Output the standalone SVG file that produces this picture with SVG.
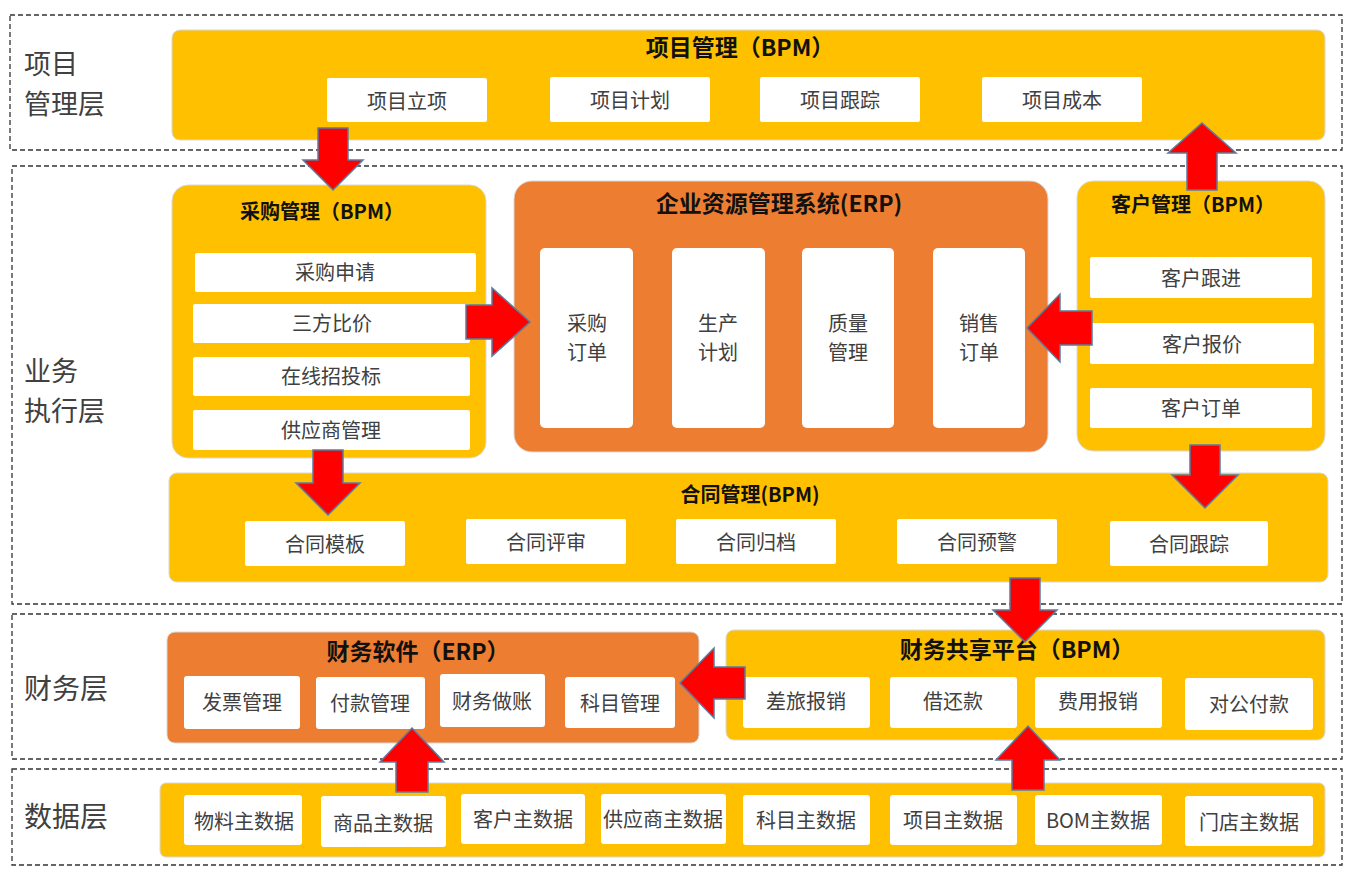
<svg xmlns="http://www.w3.org/2000/svg" width="1360" height="881" viewBox="0 0 1360 881">
<style>
.layer{fill:none;stroke:#333;stroke-width:1.3;stroke-dasharray:5 3}
.y{fill:#FFC000;stroke:#D9D9D9;stroke-width:1}
.o{fill:#ED7D31;stroke:#D9D9D9;stroke-width:1}
.w{fill:#fff}
.t{font-family:"Noto Sans CJK SC","Noto Sans",sans-serif;font-size:20px;fill:#404040;text-anchor:middle;dominant-baseline:central}
.h{font-family:"Noto Sans CJK SC","Noto Sans",sans-serif;font-size:20px;font-weight:bold;fill:#111;text-anchor:middle;dominant-baseline:central}
.hl{font-size:23px}
.lab{font-family:"Noto Sans CJK SC","Noto Sans",sans-serif;font-size:28px;fill:#404040;dominant-baseline:central}
.lab2{font-size:27px}
.arr{fill:#FF0000;stroke:#5B7BA0;stroke-width:1.5}
</style>
<g id="layers">
<rect class="layer" x="10" y="15" width="1332" height="135"/>
<rect class="layer" x="12" y="166" width="1330" height="438"/>
<rect class="layer" x="12" y="614" width="1330" height="145"/>
<rect class="layer" x="12" y="769" width="1330" height="96"/>
<text class="lab lab2" x="24" y="62">项目</text>
<text class="lab lab2" x="24" y="102">管理层</text>
<text class="lab lab2" x="24" y="369">业务</text>
<text class="lab lab2" x="24" y="409">执行层</text>
<text class="lab" x="24" y="687">财务层</text>
<text class="lab" x="24" y="815">数据层</text>
</g>
<g id="project">
<rect class="y" x="172" y="30" width="1153" height="110" rx="8"/>
<text class="h hl" x="740" y="46">项目管理（BPM）</text>
<rect class="w" x="327" y="78" width="160" height="44" rx="2"/><text class="t" x="407" y="100">项目立项</text>
<rect class="w" x="550" y="77" width="160" height="45" rx="2"/><text class="t" x="630" y="99">项目计划</text>
<rect class="w" x="760" y="77" width="160" height="45" rx="2"/><text class="t" x="840" y="99">项目跟踪</text>
<rect class="w" x="982" y="77" width="160" height="45" rx="2"/><text class="t" x="1062" y="99">项目成本</text>
</g>
<g id="purchase">
<rect class="y" x="172" y="185" width="314" height="273" rx="16"/>
<text class="h" x="322" y="210">采购管理（BPM）</text>
<rect class="w" x="195" y="253" width="281" height="39" rx="2"/><text class="t" x="335" y="271">采购申请</text>
<rect class="w" x="193" y="304" width="277" height="39" rx="2"/><text class="t" x="332" y="322">三方比价</text>
<rect class="w" x="193" y="357" width="277" height="39" rx="2"/><text class="t" x="331" y="375">在线招投标</text>
<rect class="w" x="193" y="410" width="277" height="40" rx="2"/><text class="t" x="331" y="429">供应商管理</text>
</g>
<g id="erp">
<rect class="o" x="514" y="181" width="534" height="271" rx="18"/>
<text class="h hl" x="779" y="202">企业资源管理系统(ERP)</text>
<rect class="w" x="540" y="248" width="93" height="180" rx="5"/><text class="t" x="587" y="322">采购</text><text class="t" x="587" y="351">订单</text>
<rect class="w" x="672" y="248" width="93" height="180" rx="5"/><text class="t" x="718" y="322">生产</text><text class="t" x="718" y="351">计划</text>
<rect class="w" x="802" y="248" width="92" height="180" rx="5"/><text class="t" x="848" y="322">质量</text><text class="t" x="848" y="351">管理</text>
<rect class="w" x="933" y="248" width="92" height="180" rx="5"/><text class="t" x="979" y="322">销售</text><text class="t" x="979" y="351">订单</text>
</g>
<g id="customer">
<rect class="y" x="1077" y="181" width="248" height="270" rx="16"/>
<text class="h" x="1193" y="203">客户管理（BPM）</text>
<rect class="w" x="1090" y="257" width="222" height="41" rx="2"/><text class="t" x="1201" y="277">客户跟进</text>
<rect class="w" x="1090" y="323" width="224" height="41" rx="2"/><text class="t" x="1202" y="343">客户报价</text>
<rect class="w" x="1090" y="388" width="222" height="40" rx="2"/><text class="t" x="1201" y="407">客户订单</text>
</g>
<g id="contract">
<rect class="y" x="169" y="473" width="1159" height="109" rx="8"/>
<text class="h" x="750" y="493">合同管理(BPM)</text>
<rect class="w" x="245" y="521" width="160" height="45" rx="2"/><text class="t" x="325" y="543">合同模板</text>
<rect class="w" x="466" y="519" width="160" height="45" rx="2"/><text class="t" x="546" y="541">合同评审</text>
<rect class="w" x="676" y="519" width="160" height="45" rx="2"/><text class="t" x="756" y="541">合同归档</text>
<rect class="w" x="897" y="519" width="160" height="45" rx="2"/><text class="t" x="977" y="541">合同预警</text>
<rect class="w" x="1110" y="521" width="158" height="45" rx="2"/><text class="t" x="1189" y="543">合同跟踪</text>
</g>
<g id="finance-erp">
<rect class="o" x="167" y="632" width="532" height="111" rx="8"/>
<text class="h hl" x="418" y="650">财务软件（ERP）</text>
<rect class="w" x="184" y="676" width="116" height="53" rx="3"/><text class="t" x="242" y="701">发票管理</text>
<rect class="w" x="316" y="677" width="109" height="52" rx="3"/><text class="t" x="370" y="702">付款管理</text>
<rect class="w" x="440" y="674" width="105" height="53" rx="3"/><text class="t" x="492" y="700">财务做账</text>
<rect class="w" x="565" y="677" width="110" height="51" rx="3"/><text class="t" x="620" y="702">科目管理</text>
</g>
<g id="finance-share">
<rect class="y" x="726" y="630" width="599" height="110" rx="8"/>
<text class="h hl" x="1017" y="648">财务共享平台（BPM）</text>
<rect class="w" x="743" y="677" width="127" height="51" rx="3"/><text class="t" x="806" y="700">差旅报销</text>
<rect class="w" x="890" y="677" width="127" height="51" rx="3"/><text class="t" x="953" y="700">借还款</text>
<rect class="w" x="1035" y="677" width="127" height="51" rx="3"/><text class="t" x="1098" y="700">费用报销</text>
<rect class="w" x="1185" y="678" width="128" height="52" rx="3"/><text class="t" x="1249" y="703">对公付款</text>
</g>
<g id="data">
<rect class="y" x="160" y="783" width="1165" height="74" rx="6"/>
<rect class="w" x="184" y="795" width="118" height="50" rx="3"/><text class="t" x="244" y="820">物料主数据</text>
<rect class="w" x="321" y="796" width="125" height="51" rx="3"/><text class="t" x="383" y="822">商品主数据</text>
<rect class="w" x="461" y="794" width="124" height="50" rx="3"/><text class="t" x="523" y="818">客户主数据</text>
<rect class="w" x="601" y="794" width="125" height="50" rx="3"/><text class="t" x="663" y="818">供应商主数据</text>
<rect class="w" x="743" y="795" width="127" height="50" rx="3"/><text class="t" x="806" y="819">科目主数据</text>
<rect class="w" x="890" y="795" width="127" height="50" rx="3"/><text class="t" x="953" y="819">项目主数据</text>
<rect class="w" x="1035" y="795" width="127" height="50" rx="3"/><text class="t" x="1098" y="819">BOM主数据</text>
<rect class="w" x="1185" y="796" width="128" height="50" rx="3"/><text class="t" x="1249" y="821">门店主数据</text>
</g>
<g id="connectors">
<polygon class="arr" points="318,128 348,128 348,160 363,160 333,190 303,160 318,160"/>
<polygon class="arr" points="1187,190 1217,190 1217,153 1236,153 1202,123 1168,153 1187,153"/>
<polygon class="arr" points="466,305 492,305 492,288 530,322 492,356 492,339 466,339"/>
<polygon class="arr" points="1092,311 1060,311 1060,294 1027,328 1060,362 1060,345 1092,345"/>
<polygon class="arr" points="313,450 343,450 343,483 360,483 328,515 296,483 313,483"/>
<polygon class="arr" points="1190,445 1220,445 1220,475 1238,475 1205,508 1172,475 1190,475"/>
<polygon class="arr" points="1010,578 1040,578 1040,610 1057,610 1025,642 993,610 1010,610"/>
<polygon class="arr" points="745,667 714,667 714,648 680,683 714,718 714,699 745,699"/>
<polygon class="arr" points="396,792 428,792 428,762 444,762 412,728 380,762 396,762"/>
<polygon class="arr" points="1012,790 1044,790 1044,760 1060,760 1028,726 996,760 1012,760"/>
</g>
</svg>
